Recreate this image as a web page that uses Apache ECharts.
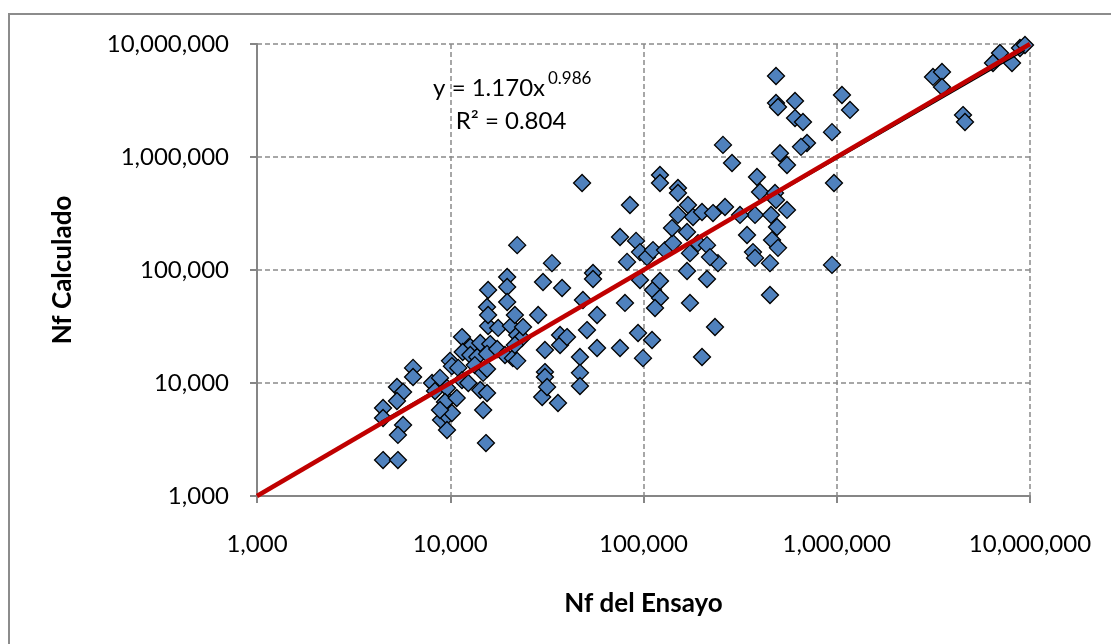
<!DOCTYPE html>
<html>
<head>
<meta charset="utf-8">
<script src="https://cdn.jsdelivr.net/npm/echarts@6/dist/echarts.min.js"></script>
<style>
html,body{margin:0;padding:0;background:#fff;}
#chart{width:1111px;height:644px;}
</style>
</head>
<body>
<div id="chart"></div>
<script>
// Nf del Ensayo (x) and Nf Calculado (y)
const nfEnsayo = [
  4490,4490,4490,5360,5300,5700,5300,5700,5360,6420,6420,
  8050,8340,8960,9620,9620,10200,9620,9970,10200,8850,9620,9390,8850,10800,11000,
  11500,12700,11600,12700,13800,13400,11500,12400,14300,15500,14800,15300,14800,14300,
  15700,17700,20600,22200,16100,15500,17500,19200,21100,22200,15500,23500,21600,
  19700,19700,15700,15500,15700,19700,21600,23800,30200,37900,28500,30900,37000,37000,40200,30900,30900,22200,
  29900,36100,33600,48600,54800,54800,57500,51000,57500,46900,46900,46900,31700,
  48100,85100,75600,91500,95900,82200,104300,112000,129200,142100,174000,168000,213100,242900,95900,112000,121700,121700,114700,80200,93700,110700,75600,99400,174000,234400,200800,
  121700,121700,150800,150800,169900,150800,180400,200800,228900,264100,140400,168000,191400,213100,220900,343300,368600,257800,287100,
  484900,484900,496600,608200,608200,668800,508500,552700,701500,653100,945000,1064000,1171000,967600,945000,451400,386600,400800,479200,484900,552700,377600,315800,456900,490700,462400,496600,377600,451400,
  3148000,3504000,3504000,4501000,4609000,6993000,8070000,8875000,6434000,9421000
];
const nfCalculado = [
  6010,4900,2080,2080,9220,8330,6930,4250,3470,13600,11300,
  10000,8500,4710,5110,3840,5430,7070,15700,14100,11100,9030,6790,5770,7370,13600,
  25500,20800,18800,17700,17000,14400,10600,10000,8670,8160,5770,2940,12300,22600,
  31900,30700,31900,26600,22100,18100,20000,17700,16600,15700,13300,25000,21700,
  86700,70700,66500,47100,40000,52100,40000,31300,78300,69300,40000,19600,26600,21700,25500,12500,11300,166000,
  7520,6650,115000,54300,94100,83300,40000,29400,20400,17000,12300,9410,9220,
  589000,376000,196000,181000,144000,118000,130000,150000,150000,173000,141000,98000,83300,115000,81600,66500,79900,56500,46100,51100,27700,24000,20400,16600,51100,31300,17000,
  693000,589000,532000,480000,376000,307000,294000,326000,319000,361000,235000,217000,173000,166000,130000,204000,144000,1280000,885000,
  5210000,3010000,2770000,3130000,2210000,2040000,1080000,850000,1330000,1230000,1660000,3540000,2610000,589000,111000,60100,665000,490000,480000,416000,340000,307000,307000,307000,240000,184000,157000,128000,115000,
  5110000,5650000,4170000,2350000,2040000,8330000,6790000,9220000,6790000,9800000
];
// 1:1 reference line and power-law trend (y = 1.170 x^0.986) end points
const lineX = [1000, 10000000];
const lineY = [1000, 10000000];
const trendX = [4400, 9400000];
const trendY = [4578, 8790000];
const axisMin = 1000, axisMax = 10000000;
const xTitle = 'Nf del Ensayo';
const yTitle = 'Nf Calculado';
const eqText = 'y = 1.170x';
const eqExp = '0.986';
const r2Text = 'R² = 0.804';

const points = nfEnsayo.map((v, i) => [v, nfCalculado[i]]);
const FONT = 'Lato';
const fmt = v => Number(v).toLocaleString('en-US');

const axisCommon = {
  type: 'log', logBase: 10, min: axisMin, max: axisMax,
  axisLine: { show: true, lineStyle: { color: '#868686', width: 2 } },
  axisTick: { show: true, length: 7, inside: false, lineStyle: { color: '#868686', width: 2 } },
  minorTick: { show: false },
  splitLine: { show: true, lineStyle: { color: '#8a8a8a', width: 1.5, type: [5, 3] } },
  axisLabel: { formatter: fmt, fontFamily: FONT, fontSize: 24, color: '#000' },
  nameLocation: 'middle',
  nameTextStyle: { fontFamily: FONT, fontSize: 26, fontWeight: 'bold', color: '#000' }
};

const chart = echarts.init(document.getElementById('chart'), null, { renderer: 'canvas' });
chart.setOption({
  animation: false,
  backgroundColor: '#fff',
  grid: { left: 257, top: 44, right: 81, bottom: 148, containLabel: false },
  xAxis: Object.assign({}, axisCommon, {
    name: xTitle, nameGap: 95,
    axisLabel: Object.assign({}, axisCommon.axisLabel, { margin: 36 })
  }),
  yAxis: Object.assign({}, axisCommon, {
    name: yTitle, nameGap: 181,
    axisLabel: Object.assign({}, axisCommon.axisLabel, { margin: 28 })
  }),
  series: [
    {
      type: 'scatter', data: points, symbol: 'diamond', symbolSize: 17, z: 2,
      itemStyle: { color: '#4F81BD', borderColor: '#000', borderWidth: 1.3, opacity: 1 }
    },
    {
      type: 'line', data: trendX.map((v, i) => [v, trendY[i]]), symbol: 'none', z: 3,
      lineStyle: { color: '#000', width: 1.5 }
    },
    {
      type: 'line', data: lineX.map((v, i) => [v, lineY[i]]), symbol: 'none', z: 4,
      lineStyle: { color: '#C00000', width: 4.5 }
    }
  ],
  graphic: [
    { type: 'rect', shape: { x: 9, y: 14, width: 1300, height: 800 }, style: { fill: 'none', stroke: '#8c8c8c', lineWidth: 2 }, silent: true, z: 0 },
    { type: 'text', x: 545, y: 88, style: { text: eqText, fontFamily: FONT, fontSize: 24, fill: '#000', align: 'right', verticalAlign: 'middle' }, z: 10 },
    { type: 'text', x: 548, y: 79, style: { text: eqExp, fontFamily: FONT, fontSize: 17, fill: '#000', align: 'left', verticalAlign: 'middle' }, z: 10 },
    { type: 'text', x: 511, y: 121, style: { text: r2Text, fontFamily: FONT, fontSize: 24, fill: '#000', align: 'center', verticalAlign: 'middle' }, z: 10 }
  ]
});
</script>
</body>
</html>
